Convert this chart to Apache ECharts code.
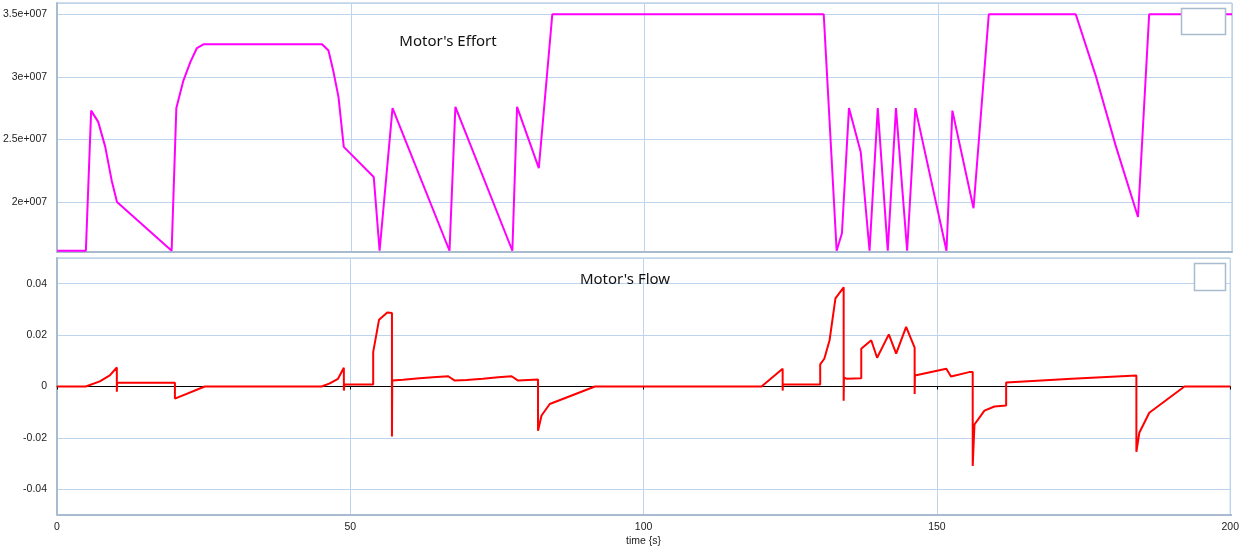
<!DOCTYPE html>
<html>
<head>
<meta charset="utf-8">
<title>Motor's Effort / Motor's Flow</title>
<script src="https://cdn.jsdelivr.net/npm/echarts@6/dist/echarts.min.js"></script>
<style>
  html, body { margin: 0; padding: 0; background: #ffffff; }
  #chart { width: 1242px; height: 552px; }
</style>
</head>
<body>
<div id="chart"></div>
<script>
// Motor effort over time: [time (s), effort]
const effortTime = [0, 4.9, 5.8, 7.0, 8.2, 9.3, 10.2, 19.5, 20.3, 21.5, 22.7, 23.8, 24.9, 45.1, 46.2, 47.0, 47.9, 48.8, 53.9, 54.9, 57.1, 66.8, 67.8, 77.5, 78.3, 82.0, 84.3, 130.5, 132.7, 133.6, 134.8, 136.8, 138.3, 139.7, 141.4, 142.8, 144.7, 146.1, 151.4, 152.4, 156.0, 158.6, 173.4, 176.8, 180.2, 184.0, 185.9, 200];
const effortValue = [1.61e7, 1.61e7, 2.73e7, 2.64e7, 2.44e7, 2.17e7, 2.00e7, 1.61e7, 2.75e7, 2.97e7, 3.12e7, 3.23e7, 3.26e7, 3.26e7, 3.21e7, 3.05e7, 2.84e7, 2.44e7, 2.20e7, 1.61e7, 2.75e7, 1.61e7, 2.76e7, 1.61e7, 2.76e7, 2.27e7, 3.50e7, 3.50e7, 1.61e7, 1.75e7, 2.75e7, 2.40e7, 1.61e7, 2.75e7, 1.61e7, 2.75e7, 1.61e7, 2.75e7, 1.61e7, 2.73e7, 1.95e7, 3.50e7, 3.50e7, 3.01e7, 2.45e7, 1.88e7, 3.50e7, 3.50e7];

// Motor flow over time: [time (s), flow]
const flowTime = [0, 4.9, 7.3, 9.0, 10.2, 10.2, 10.25, 20.1, 20.1, 25.2, 45.1, 46.5, 47.9, 48.9, 48.9, 49.0, 53.9, 53.9, 54.9, 56.3, 57.1, 57.1, 57.15, 59.0, 61.8, 64.1, 66.7, 67.8, 69.8, 72.6, 75.2, 77.5, 78.6, 82.0, 82.0, 82.6, 84.0, 91.7, 120.1, 123.7, 123.7, 123.75, 130.1, 130.1, 130.8, 131.7, 132.7, 134.1, 134.1, 134.15, 134.6, 137.1, 137.1, 138.8, 139.8, 141.8, 143.05, 144.75, 146.2, 146.2, 146.25, 151.6, 152.4, 155.5, 156.1, 156.1, 156.4, 158.1, 159.8, 161.8, 161.8, 173.0, 184.0, 184.0, 184.5, 186.2, 192.2, 200];
const flowValue = [0, 0, 0.002, 0.0043, 0.0074, -0.002, 0.0015, 0.0015, -0.0047, 0, 0, 0.0012, 0.003, 0.0073, -0.0016, 0.0008, 0.0008, 0.0134, 0.026, 0.0288, 0.0286, -0.0195, 0.0023, 0.0026, 0.0032, 0.0036, 0.004, 0.0023, 0.0025, 0.003, 0.0036, 0.004, 0.0023, 0.0027, -0.0172, -0.0113, -0.0068, 0, 0, 0.0069, -0.0016, 0.0008, 0.0008, 0.0086, 0.0108, 0.018, 0.0343, 0.0386, -0.0055, 0.0036, 0.003, 0.0032, 0.0147, 0.018, 0.0112, 0.0203, 0.0128, 0.0232, 0.0151, -0.0029, 0.0043, 0.0069, 0.0039, 0.0056, 0.0056, -0.0309, -0.0148, -0.0094, -0.0078, -0.0074, 0.0016, 0.003, 0.0043, -0.0254, -0.018, -0.0102, 0, 0];

// Axis settings
const timeMin = 0, timeMax = 200, timeStep = 50;
const effortMin = 1.6e7, effortMax = 3.59e7;
const flowMin = -0.05, flowMax = 0.05;
const timeAxisName = 'time {s}';
const effortTitle = "Motor's Effort";
const flowTitle = "Motor's Flow";

const zip = (xs, ys) => xs.map((x, i) => [x, ys[i]]);

const frameColor = '#a9bccf';
const gridColor = '#bdd4ee';
const labelFont = { fontFamily: 'Liberation Sans, Arial, sans-serif', fontSize: 10.5, color: '#222222' };

const chart = echarts.init(document.getElementById('chart'), null, { renderer: 'canvas' });

chart.setOption({
  animation: false,
  backgroundColor: '#ffffff',
  grid: [
    { left: 57, right: 10, top: 3, height: 249, show: true, borderColor: frameColor, borderWidth: 1, backgroundColor: '#ffffff' },
    { left: 57, right: 10, top: 258, bottom: 37, show: true, borderColor: frameColor, borderWidth: 1, backgroundColor: '#ffffff' }
  ],
  xAxis: [
    {
      type: 'value', gridIndex: 0, min: timeMin, max: timeMax, interval: timeStep,
      axisLine: { show: true, onZero: false, lineStyle: { color: frameColor, width: 2 } },
      axisTick: { show: false },
      axisLabel: { show: false },
      splitLine: { show: true, lineStyle: { color: gridColor, width: 1 } }
    },
    {
      // axis line sits on flow = 0, labels stay along the bottom edge
      type: 'value', gridIndex: 1, min: timeMin, max: timeMax, interval: timeStep,
      axisLine: { show: true, onZero: true, lineStyle: { color: '#000000', width: 1 } },
      axisTick: { show: true, length: 3, lineStyle: { color: '#000000' } },
      axisLabel: Object.assign({ margin: 7 }, labelFont),
      splitLine: { show: true, lineStyle: { color: gridColor, width: 1 } },
      name: timeAxisName, nameLocation: 'middle', nameGap: 21,
      nameTextStyle: labelFont
    }
  ],
  yAxis: [
    {
      type: 'value', gridIndex: 0, min: effortMin, max: effortMax, splitNumber: 4,
      axisLine: { show: true, lineStyle: { color: frameColor, width: 2 } },
      axisTick: { show: false },
      axisLabel: Object.assign({
        margin: 10, showMinLabel: false, showMaxLabel: false,
        formatter: v => (Math.round(v / 1e6) / 10) + 'e+007'
      }, labelFont),
      splitLine: { show: true, lineStyle: { color: gridColor, width: 1 } }
    },
    {
      type: 'value', gridIndex: 1, min: flowMin, max: flowMax, splitNumber: 5,
      axisLine: { show: true, lineStyle: { color: frameColor, width: 2 } },
      axisTick: { show: false },
      axisLabel: Object.assign({
        margin: 10, showMinLabel: false, showMaxLabel: false,
        formatter: v => String(Math.round(v * 100) / 100)
      }, labelFont),
      splitLine: { show: true, lineStyle: { color: gridColor, width: 1 } }
    }
  ],
  series: [
    {
      name: effortTitle, type: 'line', xAxisIndex: 0, yAxisIndex: 0,
      data: zip(effortTime, effortValue),
      showSymbol: false, smooth: false,
      lineStyle: { color: '#ff00ff', width: 2 },
      itemStyle: { color: '#ff00ff' },
      z: 5
    },
    {
      name: flowTitle, type: 'line', xAxisIndex: 1, yAxisIndex: 1,
      data: zip(flowTime, flowValue),
      showSymbol: false, smooth: false,
      lineStyle: { color: '#ff0000', width: 2 },
      itemStyle: { color: '#ff0000' },
      z: 5
    }
  ],
  graphic: [
    { type: 'text', x: 448, y: 42, z: 10,
      style: { text: effortTitle, fill: '#111111', font: '15px "Noto Sans", sans-serif', align: 'center', verticalAlign: 'middle' } },
    { type: 'text', x: 625, y: 280, z: 10,
      style: { text: flowTitle, fill: '#111111', font: '15px "Noto Sans", sans-serif', align: 'center', verticalAlign: 'middle' } },
    // bottom frame edge of the flow plot
    { type: 'line', z: 4, shape: { x1: 57, y1: 515, x2: 1232, y2: 515 },
      style: { stroke: frameColor, lineWidth: 2 } },
    // empty legend boxes
    { type: 'rect', z: 10, shape: { x: 1181.5, y: 8.5, width: 44, height: 26 },
      style: { fill: '#ffffff', stroke: '#a9bccf', lineWidth: 1.5 } },
    { type: 'rect', z: 10, shape: { x: 1194.5, y: 263.5, width: 31, height: 27 },
      style: { fill: '#ffffff', stroke: '#a9bccf', lineWidth: 1.5 } }
  ]
});
</script>
</body>
</html>
